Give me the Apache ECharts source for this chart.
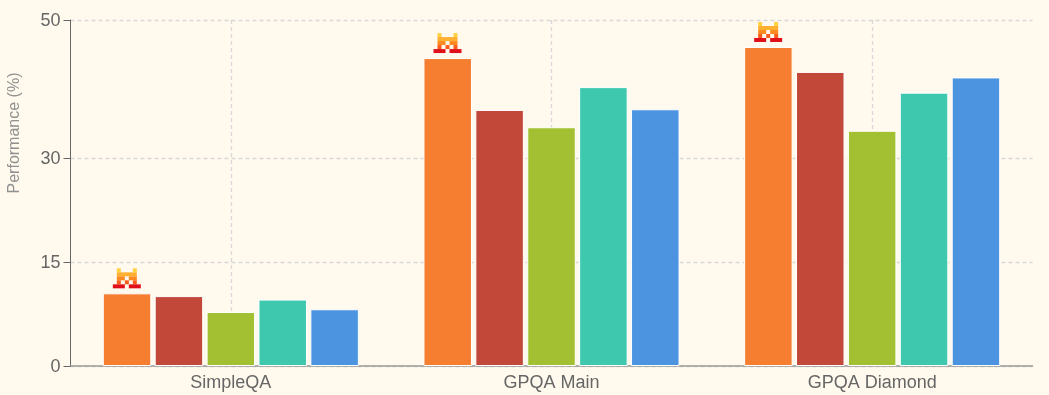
<!DOCTYPE html>
<html>
<head>
<meta charset="utf-8">
<style>
    html, body { margin: 0; padding: 0; background: #fffaed; }
    #chart { width: 1049px; height: 395px; }
</style>
<script src="https://cdn.jsdelivr.net/npm/echarts@6/dist/echarts.min.js"></script>
</head>
<body>
<div id="chart"></div>
<script>
    const categories = ['SimpleQA', 'GPQA Main', 'GPQA Diamond']
    const tickValues = [0, 15, 30, 50]
    const modelA = [10.5, 44.5, 46.1]
    const modelB = [10.1, 37.0, 42.5]
    const modelC = [7.8, 34.5, 34.0]
    const modelD = [9.6, 40.3, 39.5]
    const modelE = [8.2, 37.1, 41.7]
    const colors = ['#f67e31', '#c2483a', '#a2c031', '#3ec9af', '#4c94e0']

    // logo pixels: row, start column, column span, colour
    const logoPixels = [
        [0, 1, 1, '#ffd040'], [0, 5, 1, '#ffd040'],
        [1, 1, 5, '#ffb030'],
        [2, 1, 2, '#ff8a20'], [2, 4, 2, '#ff8a20'],
        [3, 1, 1, '#fa5a1a'], [3, 3, 1, '#fa5a1a'], [3, 5, 1, '#fa5a1a'],
        [4, 0, 3, '#e0101a'], [4, 4, 3, '#e0101a']
    ]

    const chart = echarts.init(document.getElementById('chart'))

    const barSeries = [modelA, modelB, modelC, modelD, modelE].map((values, i) => ({
        type: 'bar',
        data: values,
        barWidth: 48.5,
        barGap: '7%',
        itemStyle: { color: colors[i], borderColor: '#fff', borderWidth: 1, borderRadius: 0 }
    }))

    chart.setOption({
        backgroundColor: '#fffaed',
        animation: false,
        grid: { left: 70.5, right: 16.5, top: 20, bottom: 29, outerBoundsMode: 'none' },
        xAxis: {
            type: 'category',
            data: categories,
            axisLine: { lineStyle: { color: '#999', width: 1.5 } },
            axisTick: { alignWithLabel: true, length: 6, lineStyle: { color: '#999' } },
            axisLabel: { color: '#666', fontSize: 18, fontFamily: 'Liberation Sans', margin: 8 },
            splitLine: { show: true, alignWithLabel: true, lineStyle: { color: '#d8d8d8', width: 1.3, type: [4, 3] } }
        },
        yAxis: {
            type: 'value',
            min: 0,
            max: 50,
            name: 'Performance (%)',
            nameLocation: 'middle',
            nameGap: 48,
            nameTextStyle: { color: '#909090', fontSize: 16, fontFamily: 'Liberation Sans', padding: [0, 0, 0, 120] },
            axisLine: { show: true, lineStyle: { color: '#666', width: 1 } },
            axisTick: { show: true, length: 7, customValues: tickValues, lineStyle: { color: '#666' } },
            axisLabel: { color: '#666', fontSize: 18, fontFamily: 'Liberation Sans', margin: 10, verticalAlign: 'top', lineHeight: 18, padding: [-8, 0, 0, 0], customValues: tickValues },
            splitLine: { show: true, lineStyle: { color: '#d8d8d8', width: 1.3, type: [4, 3] } }
        },
        series: barSeries.concat([{
            type: 'custom',
            data: modelA.map((v, i) => [i, v]),
            z: 5,
            renderItem (params, api) {
                const point = api.coord([api.value(0), api.value(1)])
                const size = 4
                const left = point[0] - 104 - 14
                const top = point[1] - 5 - 5 * size
                return {
                    type: 'group',
                    children: logoPixels.map(p => ({
                        type: 'rect',
                        shape: { x: left + p[1] * size, y: top + p[0] * size, width: p[2] * size, height: size },
                        style: { fill: p[3] }
                    }))
                }
            }
        }])
    })
</script>
</body>
</html>
